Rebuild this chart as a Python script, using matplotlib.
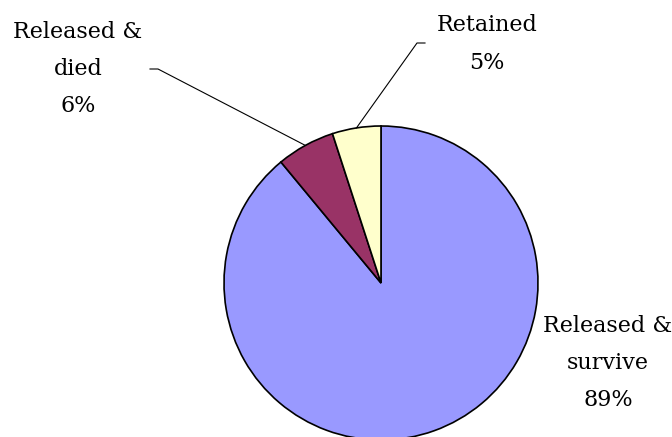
import matplotlib.pyplot as plt
import numpy as np

labels = ['Released &\nsurvive', 'Released &\ndied', 'Retained']
shares = [89, 6, 5]
colors = ['#9999FF', '#993366', '#FFFFCC']
# label centres (figure pixels from top-left) and leader-line elbows
label_pos = [(608, 363), (78, 69), (487, 44)]
elbows = [None, (150, 69), (425, 43)]

W, H = 672, 437
fig = plt.figure(figsize=(W / 100, H / 100), dpi=100)
cx, cy, r = 381, 283, 157
ax = fig.add_axes([(cx - r) / W, (H - cy - r) / H, 2 * r / W, 2 * r / H])

wedges, _ = ax.pie(shares, colors=colors, startangle=90, counterclock=False,
                   radius=1, wedgeprops=dict(edgecolor='black', linewidth=1.2))
ax.set_xlim(-1, 1)
ax.set_ylim(-1, 1)
ax.axis('off')
for w in wedges:
    w.set_clip_on(False)

def px_to_data(x, y):
    return (x - cx) / r, (cy - y) / r

for w, lab, pct, pos, elbow in zip(wedges, labels, shares, label_pos, elbows):
    tx, ty = px_to_data(*pos)
    ax.text(tx, ty, f'{lab}\n{pct}%', ha='center', va='center',
            family='DejaVu Serif', fontsize=16, linespacing=1.9, clip_on=False)
    if elbow is not None:
        mid = np.deg2rad((w.theta1 + w.theta2) / 2)
        ex, ey = np.cos(mid), np.sin(mid)
        bx, by = px_to_data(*elbow)
        side = 1 if bx < ex else -1
        ax.plot([bx, bx + side * 8 / r, ex], [by, by, ey], color='black',
                linewidth=0.8, clip_on=False)

fig.savefig('out.png', dpi=100)
